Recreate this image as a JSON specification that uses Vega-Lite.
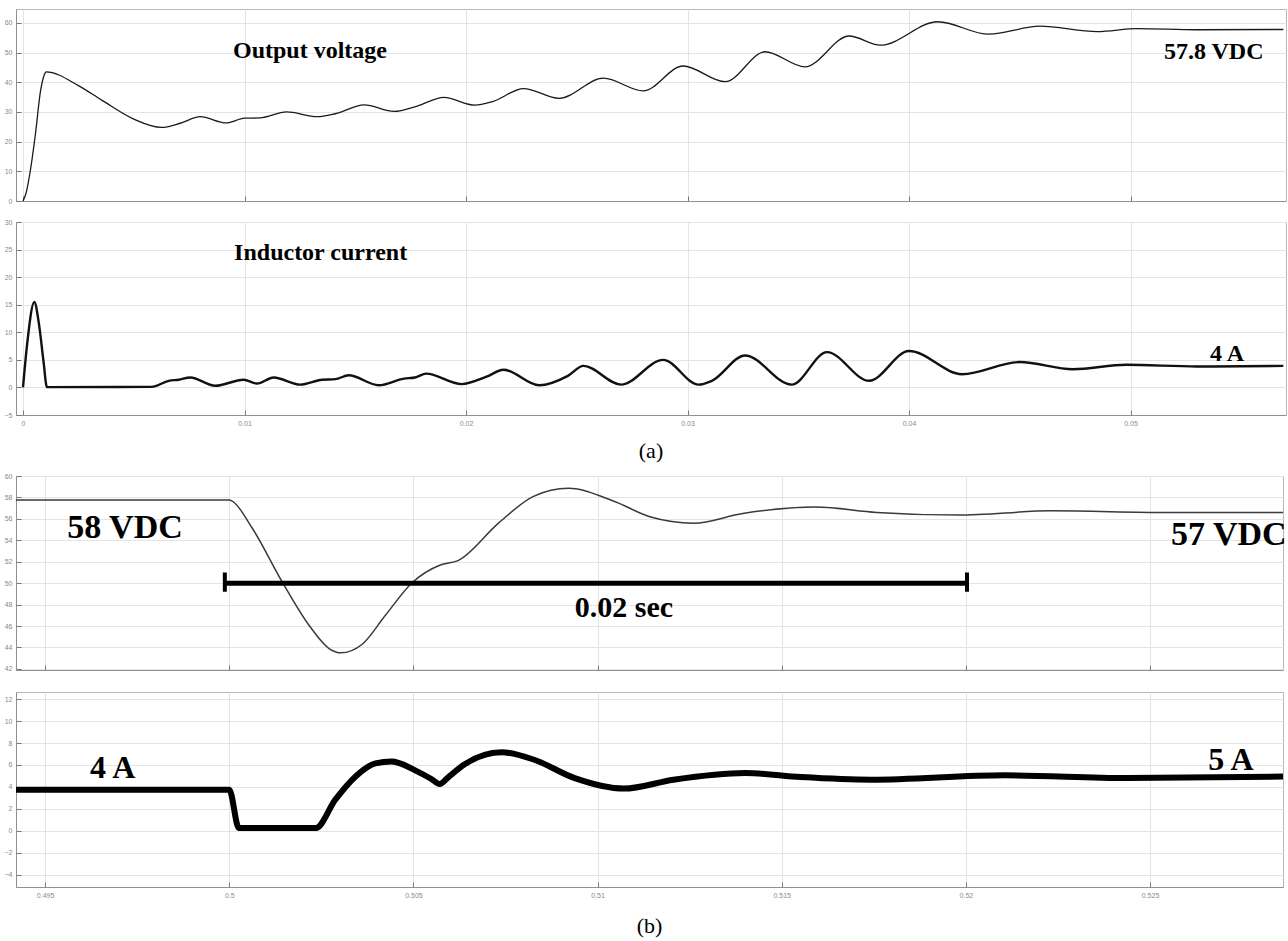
{
  "$schema": "https://vega.github.io/schema/vega-lite/v6.json",
  "background": "white",
  "autosize": {"type": "pad"},
  "padding": {"left": 3, "top": 8, "right": 0, "bottom": 0},
  "config": {
    "view": {"stroke": "#b8b8b8", "strokeWidth": 1},
    "axis": {
      "title": null,
      "labelFont": "Liberation Sans",
      "labelFontSize": 7,
      "labelColor": "#8a8a8a",
      "gridColor": "#e4e4e4",
      "gridWidth": 1,
      "domainColor": "#909090",
      "tickColor": "#777777",
      "tickSize": -5,
      "labelPadding": 9,
      "labelFlush": false,
      "labelOverlap": false
    },
    "title": {"font": "Liberation Serif", "fontWeight": "normal", "fontSize": 22, "color": "#000000"}
  },
  "datasets": {
    "voltA": [
      {"t": 0, "v": 0}, {"t": 0.00015, "v": 3}, {"t": 0.00033, "v": 10.2}, {"t": 0.00056, "v": 22.5},
      {"t": 0.00079, "v": 37}, {"t": 0.00095, "v": 42.3}, {"t": 0.00105, "v": 43.5}, {"t": 0.0025, "v": 38.9},
      {"t": 0.00357, "v": 33.9}, {"t": 0.005, "v": 27.6}, {"t": 0.00625, "v": 24.8}, {"t": 0.0071, "v": 26.2},
      {"t": 0.008, "v": 28.4}, {"t": 0.00917, "v": 26.3}, {"t": 0.01, "v": 27.9}, {"t": 0.0107, "v": 28.0},
      {"t": 0.0119, "v": 30.0}, {"t": 0.01328, "v": 28.4}, {"t": 0.0141, "v": 29.4}, {"t": 0.0154, "v": 32.4},
      {"t": 0.01675, "v": 30.2}, {"t": 0.0178, "v": 32.0}, {"t": 0.019, "v": 34.9}, {"t": 0.0204, "v": 32.3},
      {"t": 0.0212, "v": 33.5}, {"t": 0.0226, "v": 37.9}, {"t": 0.0242, "v": 34.6}, {"t": 0.0262, "v": 41.4},
      {"t": 0.028, "v": 37.1}, {"t": 0.0298, "v": 45.5}, {"t": 0.0317, "v": 40.2}, {"t": 0.0335, "v": 50.3},
      {"t": 0.0353, "v": 45.2}, {"t": 0.0373, "v": 55.6}, {"t": 0.0387, "v": 52.5}, {"t": 0.0413, "v": 60.4},
      {"t": 0.0436, "v": 56.2}, {"t": 0.0459, "v": 58.9}, {"t": 0.0485, "v": 57.1}, {"t": 0.0503, "v": 58.1},
      {"t": 0.053, "v": 57.7}, {"t": 0.0569, "v": 57.8}
    ],
    "currA": [
      {"t": 0, "v": 0}, {"t": 0.00018, "v": 7.6}, {"t": 0.00051, "v": 15.5}, {"t": 0.00071, "v": 11.8},
      {"t": 0.00093, "v": 4.6}, {"t": 0.00108, "v": 0.05}, {"t": 0.0058, "v": 0.1}, {"t": 0.00658, "v": 1.2},
      {"t": 0.00703, "v": 1.4}, {"t": 0.00755, "v": 1.8}, {"t": 0.00868, "v": 0.3}, {"t": 0.00996, "v": 1.4},
      {"t": 0.01056, "v": 0.7}, {"t": 0.01132, "v": 1.8}, {"t": 0.01252, "v": 0.5}, {"t": 0.0135, "v": 1.4},
      {"t": 0.0141, "v": 1.5}, {"t": 0.0147, "v": 2.2}, {"t": 0.01606, "v": 0.4}, {"t": 0.0172, "v": 1.6},
      {"t": 0.0177, "v": 1.8}, {"t": 0.0182, "v": 2.5}, {"t": 0.0198, "v": 0.6}, {"t": 0.0209, "v": 1.9},
      {"t": 0.0217, "v": 3.2}, {"t": 0.0233, "v": 0.4}, {"t": 0.0246, "v": 2.1}, {"t": 0.0253, "v": 3.9},
      {"t": 0.027, "v": 0.5}, {"t": 0.0289, "v": 5.0}, {"t": 0.0305, "v": 0.5}, {"t": 0.0311, "v": 1.2},
      {"t": 0.0326, "v": 5.8}, {"t": 0.0347, "v": 0.5}, {"t": 0.0363, "v": 6.4}, {"t": 0.0382, "v": 1.2},
      {"t": 0.04, "v": 6.6}, {"t": 0.0424, "v": 2.4}, {"t": 0.045, "v": 4.6}, {"t": 0.0474, "v": 3.3},
      {"t": 0.0498, "v": 4.1}, {"t": 0.053, "v": 3.8}, {"t": 0.0569, "v": 3.9}
    ],
    "voltB": [
      {"t": 0.49421, "v": 57.75}, {"t": 0.5, "v": 57.75}, {"t": 0.50008, "v": 57.65}, {"t": 0.50063, "v": 55.1},
      {"t": 0.50144, "v": 50.1}, {"t": 0.50217, "v": 46.05}, {"t": 0.50271, "v": 43.9}, {"t": 0.50303, "v": 43.5},
      {"t": 0.50361, "v": 44.3}, {"t": 0.50424, "v": 47.0}, {"t": 0.50495, "v": 50.0}, {"t": 0.50573, "v": 51.7},
      {"t": 0.50621, "v": 52.1}, {"t": 0.50731, "v": 55.6}, {"t": 0.50826, "v": 58.1}, {"t": 0.50921, "v": 58.85},
      {"t": 0.51048, "v": 57.6}, {"t": 0.51142, "v": 56.2}, {"t": 0.51261, "v": 55.6}, {"t": 0.51394, "v": 56.5},
      {"t": 0.51592, "v": 57.1}, {"t": 0.51758, "v": 56.6}, {"t": 0.5198, "v": 56.35}, {"t": 0.52233, "v": 56.75},
      {"t": 0.52549, "v": 56.6}, {"t": 0.52861, "v": 56.6}
    ],
    "currB": [
      {"t": 0.49421, "v": 3.75}, {"t": 0.5, "v": 3.75}, {"t": 0.50026, "v": 0.27}, {"t": 0.50235, "v": 0.27},
      {"t": 0.50288, "v": 2.85}, {"t": 0.50343, "v": 4.96}, {"t": 0.50397, "v": 6.15}, {"t": 0.50441, "v": 6.32},
      {"t": 0.5051, "v": 5.42}, {"t": 0.5055, "v": 4.7}, {"t": 0.50571, "v": 4.27}, {"t": 0.50595, "v": 4.9},
      {"t": 0.50637, "v": 6.03}, {"t": 0.5074, "v": 7.15}, {"t": 0.50826, "v": 6.5}, {"t": 0.50938, "v": 4.8},
      {"t": 0.51071, "v": 3.85}, {"t": 0.51206, "v": 4.66}, {"t": 0.51401, "v": 5.27}, {"t": 0.51552, "v": 4.9},
      {"t": 0.51742, "v": 4.66}, {"t": 0.52106, "v": 5.06}, {"t": 0.52437, "v": 4.82}, {"t": 0.52861, "v": 4.95}
    ],
    "annVoltA": [
      {"t": 0.00948, "v": 48.1, "label": "Output voltage"},
      {"t": 0.05151, "v": 47.8, "label": "57.8 VDC"}
    ],
    "annCurrA": [
      {"t": 0.00953, "v": 23.1, "label": "Inductor current"},
      {"t": 0.05359, "v": 4.86, "label": "4 A"}
    ],
    "annVoltB": [
      {"t": 0.4956, "v": 54.17, "label": "58 VDC"},
      {"t": 0.52557, "v": 53.54, "label": "57 VDC"}
    ],
    "annSec": [
      {"t": 0.50938, "v": 46.83, "label": "0.02 sec"}
    ],
    "annCurrB": [
      {"t": 0.49622, "v": 4.82, "label": "4 A"},
      {"t": 0.52658, "v": 5.57, "label": "5 A"}
    ],
    "bar": [
      {"t": 0.49988, "t2": 0.52003, "v": 50}
    ],
    "caps": [
      {"t": 0.49988, "v": 49.2, "v2": 51.0},
      {"t": 0.52003, "v": 49.2, "v2": 51.0}
    ]
  },
  "spacing": 8,
  "vconcat": [
    {
      "bounds": "flush",
      "spacing": 21,
      "vconcat": [
        {
          "width": 1270,
          "height": 192,
          "encoding": {
            "x": {"field": "t", "type": "quantitative",
              "scale": {"domain": [-0.000316, 0.05702], "nice": false, "zero": false},
              "axis": {"values": [0, 0.01, 0.02, 0.03, 0.04, 0.05], "labels": false, "grid": true}},
            "y": {"field": "v", "type": "quantitative",
              "scale": {"domain": [0, 64.7], "nice": false, "zero": false},
              "axis": {"values": [0, 10, 20, 30, 40, 50, 60], "grid": true}}
          },
          "layer": [
            {"data": {"name": "voltA"}, "mark": {"type": "line", "interpolate": "monotone", "color": "#1a1a1a", "strokeWidth": 1.3}, "encoding": {}},
            {"data": {"name": "annVoltA"}, "mark": {"type": "text", "align": "left", "baseline": "alphabetic", "font": "Liberation Serif", "fontWeight": "bold", "fontSize": 24, "color": "#000000"},
              "encoding": {"text": {"field": "label"}}}
          ]
        },
        {
          "width": 1270,
          "height": 193,
          "title": {"text": "(a)", "orient": "bottom", "anchor": "middle", "frame": "group", "offset": 15},
          "encoding": {
            "x": {"field": "t", "type": "quantitative",
              "scale": {"domain": [-0.000316, 0.05702], "nice": false, "zero": false},
              "axis": {"values": [0, 0.01, 0.02, 0.03, 0.04, 0.05], "format": "~g", "grid": true}},
            "y": {"field": "v", "type": "quantitative",
              "scale": {"domain": [-5, 30], "nice": false, "zero": false},
              "axis": {"values": [-5, 0, 5, 10, 15, 20, 25, 30], "grid": true}}
          },
          "layer": [
            {"data": {"name": "currA"}, "mark": {"type": "line", "interpolate": "monotone", "color": "#111111", "strokeWidth": 2.4}, "encoding": {}},
            {"data": {"name": "annCurrA"}, "mark": {"type": "text", "align": "left", "baseline": "alphabetic", "font": "Liberation Serif", "fontWeight": "bold", "fontSize": 24, "color": "#000000"},
              "encoding": {"text": {"field": "label"}}}
          ]
        }
      ]
    },
    {
      "bounds": "flush",
      "spacing": 22,
      "vconcat": [
        {
          "width": 1267,
          "height": 194,
          "encoding": {
            "x": {"field": "t", "type": "quantitative",
              "scale": {"domain": [0.49421, 0.52861], "nice": false, "zero": false},
              "axis": {"values": [0.495, 0.5, 0.505, 0.51, 0.515, 0.52, 0.525], "labels": false, "grid": true}},
            "y": {"field": "v", "type": "quantitative",
              "scale": {"domain": [41.9, 60], "nice": false, "zero": false},
              "axis": {"values": [42, 44, 46, 48, 50, 52, 54, 56, 58, 60], "grid": true}}
          },
          "layer": [
            {"data": {"name": "voltB"}, "mark": {"type": "line", "interpolate": "monotone", "color": "#3a3a3a", "strokeWidth": 1.5}, "encoding": {}},
            {"data": {"name": "bar"}, "mark": {"type": "rule", "color": "#000000", "strokeWidth": 5}, "encoding": {"x2": {"field": "t2"}}},
            {"data": {"name": "caps"}, "mark": {"type": "rule", "color": "#000000", "strokeWidth": 4}, "encoding": {"y2": {"field": "v2"}}},
            {"data": {"name": "annVoltB"}, "mark": {"type": "text", "align": "left", "baseline": "alphabetic", "font": "Liberation Serif", "fontWeight": "bold", "fontSize": 34, "color": "#000000"},
              "encoding": {"text": {"field": "label"}}},
            {"data": {"name": "annSec"}, "mark": {"type": "text", "align": "left", "baseline": "alphabetic", "font": "Liberation Serif", "fontWeight": "bold", "fontSize": 30, "color": "#000000"},
              "encoding": {"text": {"field": "label"}}}
          ]
        },
        {
          "width": 1267,
          "height": 195,
          "title": {"text": "(b)", "orient": "bottom", "anchor": "middle", "frame": "group", "offset": 18},
          "encoding": {
            "x": {"field": "t", "type": "quantitative",
              "scale": {"domain": [0.49421, 0.52861], "nice": false, "zero": false},
              "axis": {"values": [0.495, 0.5, 0.505, 0.51, 0.515, 0.52, 0.525], "format": "~g", "grid": true}},
            "y": {"field": "v", "type": "quantitative",
              "scale": {"domain": [-5.1, 12.64], "nice": false, "zero": false},
              "axis": {"values": [-4, -2, 0, 2, 4, 6, 8, 10, 12], "grid": true}}
          },
          "layer": [
            {"data": {"name": "currB"}, "mark": {"type": "line", "interpolate": "monotone", "color": "#000000", "strokeWidth": 6}, "encoding": {}},
            {"data": {"name": "annCurrB"}, "mark": {"type": "text", "align": "left", "baseline": "alphabetic", "font": "Liberation Serif", "fontWeight": "bold", "fontSize": 32, "color": "#000000"},
              "encoding": {"text": {"field": "label"}}}
          ]
        }
      ]
    }
  ]
}
